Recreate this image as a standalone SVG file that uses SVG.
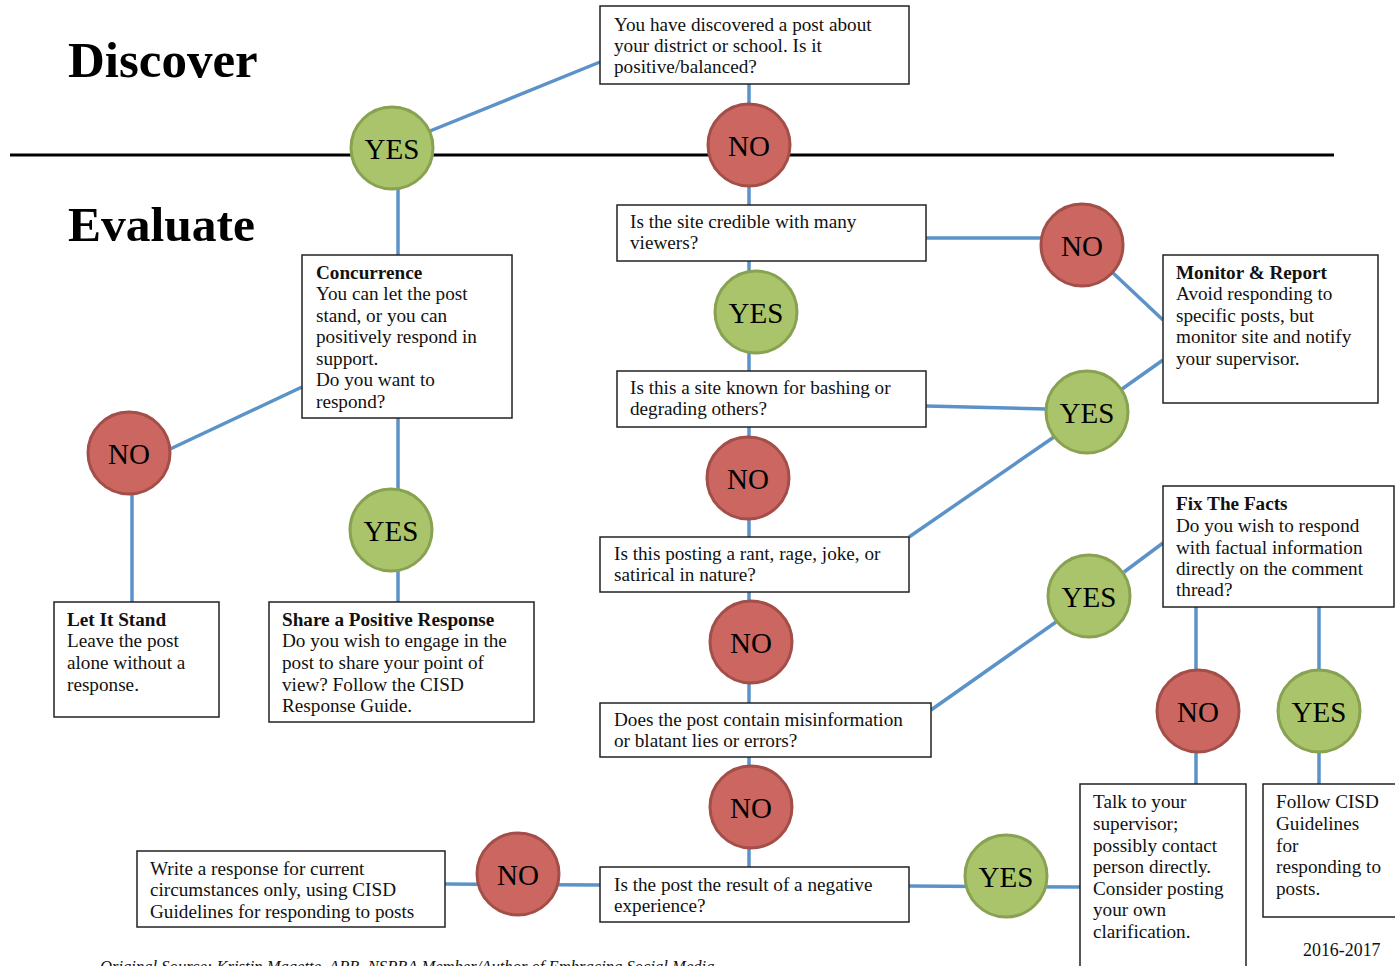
<svg xmlns="http://www.w3.org/2000/svg" width="1395" height="966" viewBox="0 0 1395 966">
<style>
.t{font-family:"Liberation Serif","Times New Roman",serif;font-size:19.2px;fill:#111}
.b{font-weight:bold}
.h{font-family:"Liberation Serif","Times New Roman",serif;font-size:50px;font-weight:bold;fill:#000}
.box{fill:#fff;stroke:#222;stroke-width:1.5}
.c{stroke:#5B93C8;stroke-width:3.5;fill:none}
.no{fill:#CC6660;stroke:#A44E49;stroke-width:3}
.yes{fill:#A9C46A;stroke:#88A252;stroke-width:3}
.lbl{font-family:"Liberation Serif","Times New Roman",serif;font-size:29px;fill:#000;text-anchor:middle}
</style>
<rect width="1395" height="966" fill="#fff"/>
<text class="h" x="68" y="77" style="font-size:51px">Discover</text>
<text class="h" x="68" y="241" style="font-size:49.5px">Evaluate</text>
<line x1="10" y1="155" x2="1334" y2="155" stroke="#000" stroke-width="3"/>
<g id="connectors">
<line class="c" x1="600" y1="62" x2="430" y2="131"/>
<line class="c" x1="749" y1="84" x2="749" y2="205"/>
<line class="c" x1="398" y1="185" x2="398" y2="255"/>
<line class="c" x1="926" y1="238" x2="1042" y2="238"/>
<line class="c" x1="1112" y1="272" x2="1163" y2="320"/>
<line class="c" x1="749" y1="261" x2="749" y2="371"/>
<line class="c" x1="749" y1="427" x2="749" y2="537"/>
<line class="c" x1="926" y1="406" x2="1046" y2="409"/>
<line class="c" x1="1122" y1="389" x2="1163" y2="360"/>
<line class="c" x1="1054" y1="437" x2="909" y2="537"/>
<line class="c" x1="749" y1="592" x2="749" y2="703"/>
<line class="c" x1="931" y1="710" x2="1056" y2="622"/>
<line class="c" x1="1124" y1="572" x2="1163" y2="543"/>
<line class="c" x1="1196" y1="607" x2="1196" y2="784"/>
<line class="c" x1="1319" y1="607" x2="1319" y2="784"/>
<line class="c" x1="749" y1="757" x2="749" y2="867"/>
<line class="c" x1="445" y1="884" x2="600" y2="885"/>
<line class="c" x1="909" y1="886" x2="1080" y2="887"/>
<line class="c" x1="302" y1="387" x2="168" y2="450"/>
<line class="c" x1="132" y1="495" x2="132" y2="602"/>
<line class="c" x1="398" y1="418" x2="398" y2="602"/>
</g>
<g id="q1"><rect class="box" x="600" y="6" width="309" height="78"/>
<text class="t" x="614" y="31">You have discovered a post about</text>
<text class="t" x="614" y="52">your district or school. Is it</text>
<text class="t" x="614" y="73">positive/balanced?</text></g>
<g id="q2"><rect class="box" x="617" y="205" width="309" height="56"/>
<text class="t" x="630" y="228">Is the site credible with many</text>
<text class="t" x="630" y="249">viewers?</text></g>
<g id="q3"><rect class="box" x="617" y="371" width="309" height="56"/>
<text class="t" x="630" y="394">Is this a site known for bashing or</text>
<text class="t" x="630" y="415">degrading others?</text></g>
<g id="q4"><rect class="box" x="600" y="537" width="309" height="55"/>
<text class="t" x="614" y="560">Is this posting a rant, rage, joke, or</text>
<text class="t" x="614" y="581">satirical in nature?</text></g>
<g id="q5"><rect class="box" x="600" y="703" width="331" height="54"/>
<text class="t" x="614" y="726">Does the post contain misinformation</text>
<text class="t" x="614" y="747">or blatant lies or errors?</text></g>
<g id="q6"><rect class="box" x="600" y="867" width="309" height="55"/>
<text class="t" x="614" y="891">Is the post the result of a negative</text>
<text class="t" x="614" y="912">experience?</text></g>
<g id="concurrence"><rect class="box" x="302" y="255" width="210" height="163"/>
<text class="t b" x="316" y="279">Concurrence</text>
<text class="t" x="316" y="300">You can let the post</text>
<text class="t" x="316" y="322">stand, or you can</text>
<text class="t" x="316" y="343">positively respond in</text>
<text class="t" x="316" y="365">support.</text>
<text class="t" x="316" y="386">Do you want to</text>
<text class="t" x="316" y="408">respond?</text></g>
<g id="letitstand"><rect class="box" x="54" y="602" width="165" height="115"/>
<text class="t b" x="67" y="626">Let It Stand</text>
<text class="t" x="67" y="647">Leave the post</text>
<text class="t" x="67" y="669">alone without a</text>
<text class="t" x="67" y="691">response.</text></g>
<g id="share"><rect class="box" x="269" y="602" width="265" height="120"/>
<text class="t b" x="282" y="626">Share a Positive Response</text>
<text class="t" x="282" y="647">Do you wish to engage in the</text>
<text class="t" x="282" y="669">post to share your point of</text>
<text class="t" x="282" y="691">view? Follow the CISD</text>
<text class="t" x="282" y="712">Response Guide.</text></g>
<g id="monitor"><rect class="box" x="1163" y="255" width="215" height="148"/>
<text class="t b" x="1176" y="279">Monitor &amp; Report</text>
<text class="t" x="1176" y="300">Avoid responding to</text>
<text class="t" x="1176" y="322">specific posts, but</text>
<text class="t" x="1176" y="343">monitor site and notify</text>
<text class="t" x="1176" y="365">your supervisor.</text></g>
<g id="fixfacts"><rect class="box" x="1163" y="486" width="231" height="121"/>
<text class="t b" x="1176" y="510">Fix The Facts</text>
<text class="t" x="1176" y="532">Do you wish to respond</text>
<text class="t" x="1176" y="554">with factual information</text>
<text class="t" x="1176" y="575">directly on the comment</text>
<text class="t" x="1176" y="596">thread?</text></g>
<g id="write"><rect class="box" x="137" y="851" width="308" height="76"/>
<text class="t" x="150" y="875">Write a response for current</text>
<text class="t" x="150" y="896">circumstances only, using CISD</text>
<text class="t" x="150" y="918">Guidelines for responding to posts</text></g>
<g id="talk"><rect class="box" x="1080" y="784" width="166" height="190"/>
<text class="t" x="1093" y="808">Talk to your</text>
<text class="t" x="1093" y="830">supervisor;</text>
<text class="t" x="1093" y="852">possibly contact</text>
<text class="t" x="1093" y="873">person directly.</text>
<text class="t" x="1093" y="895">Consider posting</text>
<text class="t" x="1093" y="916">your own</text>
<text class="t" x="1093" y="938">clarification.</text></g>
<g id="follow"><rect class="box" x="1263" y="784" width="140" height="133"/>
<text class="t" x="1276" y="808">Follow CISD</text>
<text class="t" x="1276" y="830">Guidelines</text>
<text class="t" x="1276" y="852">for</text>
<text class="t" x="1276" y="873">responding to</text>
<text class="t" x="1276" y="895">posts.</text></g>
<g id="yes1"><circle class="yes" cx="392" cy="148" r="41"/><text class="lbl" x="392" y="159">YES</text></g>
<g id="no1"><circle class="no" cx="749" cy="145" r="41"/><text class="lbl" x="749" y="156">NO</text></g>
<g id="no2"><circle class="no" cx="1082" cy="245" r="41"/><text class="lbl" x="1082" y="256">NO</text></g>
<g id="yes2"><circle class="yes" cx="756" cy="312" r="41"/><text class="lbl" x="756" y="323">YES</text></g>
<g id="yes3"><circle class="yes" cx="1087" cy="412" r="41"/><text class="lbl" x="1087" y="423">YES</text></g>
<g id="no3"><circle class="no" cx="748" cy="478" r="41"/><text class="lbl" x="748" y="489">NO</text></g>
<g id="noleft"><circle class="no" cx="129" cy="453" r="41"/><text class="lbl" x="129" y="464">NO</text></g>
<g id="yesleft"><circle class="yes" cx="391" cy="530" r="41"/><text class="lbl" x="391" y="541">YES</text></g>
<g id="yes4"><circle class="yes" cx="1089" cy="596" r="41"/><text class="lbl" x="1089" y="607">YES</text></g>
<g id="no4"><circle class="no" cx="751" cy="642" r="41"/><text class="lbl" x="751" y="653">NO</text></g>
<g id="no5"><circle class="no" cx="1198" cy="711" r="41"/><text class="lbl" x="1198" y="722">NO</text></g>
<g id="yes5"><circle class="yes" cx="1319" cy="711" r="41"/><text class="lbl" x="1319" y="722">YES</text></g>
<g id="no6"><circle class="no" cx="751" cy="807" r="41"/><text class="lbl" x="751" y="818">NO</text></g>
<g id="no7"><circle class="no" cx="518" cy="874" r="41"/><text class="lbl" x="518" y="885">NO</text></g>
<g id="yes6"><circle class="yes" cx="1006" cy="876" r="41"/><text class="lbl" x="1006" y="887">YES</text></g>
<text class="t" x="1303" y="956" style="font-size:17.9px">2016-2017</text>
<text class="t" x="100" y="972" style="font-style:italic;font-size:16.6px">Original Source: Kristin Magette, APR, NSPRA Member/Author of Embracing Social Media</text>
</svg>
